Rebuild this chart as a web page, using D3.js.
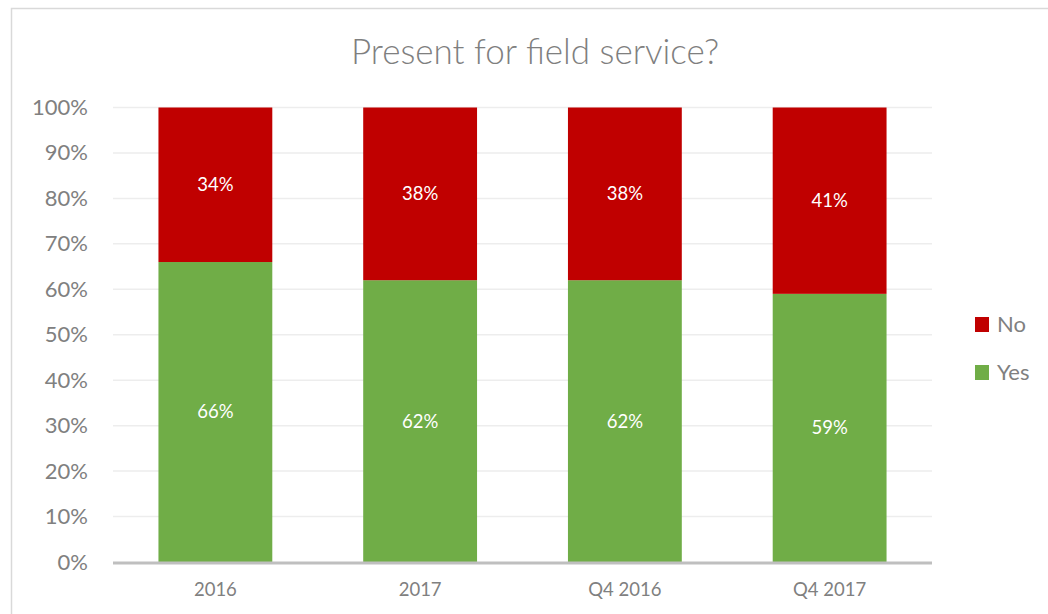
<!DOCTYPE html>
<html>
<head>
<meta charset="utf-8">
<script src="https://cdn.jsdelivr.net/npm/d3@7"></script>
<style>
  html, body { margin: 0; padding: 0; background: #fff; }
  svg { display: block; font-family: Lato, "Open Sans", sans-serif; }
</style>
</head>
<body>
<div id="chart"></div>
<script>
// Survey answers per period (percent of respondents)
const categories = ["2016", "2017", "Q4 2016", "Q4 2017"];
const yesValues = [66, 62, 62, 59];
const noValues = [34, 38, 38, 41];
const seriesNames = ["Yes", "No"];
const yTicks = [0, 10, 20, 30, 40, 50, 60, 70, 80, 90, 100];
const titleText = "Present for field service?";

const width = 1048, height = 614;
const colors = { Yes: "#70AD47", No: "#C00000" };

const svg = d3.select("#chart").append("svg")
  .attr("width", width).attr("height", height);

// chart area frame (only top and left edges fall inside the view)
svg.append("rect")
  .attr("x", 11.5).attr("y", 8.5)
  .attr("width", width + 20).attr("height", height + 20)
  .attr("fill", "#fff").attr("stroke", "#d9d9d9").attr("stroke-width", 1.5);

const plot = { left: 113, right: 932, top: 107.5, bottom: 562 };

const x = d3.scaleBand()
  .domain(categories)
  .range([plot.left, plot.right])
  .paddingInner(0.444)
  .paddingOuter(0.222);

const y = d3.scaleLinear()
  .domain([0, 100])
  .range([plot.bottom, plot.top]);

// horizontal gridlines
svg.append("g")
  .selectAll("line")
  .data(yTicks.filter(t => t > 0))
  .join("line")
  .attr("x1", plot.left).attr("x2", plot.right)
  .attr("y1", d => y(d)).attr("y2", d => y(d))
  .attr("stroke", "#ededed").attr("stroke-width", 1.5);

// y axis labels
const yAxis = d3.axisLeft(y).tickValues(yTicks).tickFormat(d => d + "%").tickSize(0).tickPadding(0);
const yg = svg.append("g").attr("transform", `translate(${plot.left - 25},0)`).call(yAxis);
yg.select(".domain").remove();
yg.selectAll("text")
  .attr("fill", "#808080").attr("font-size", 22)
  .attr("font-family", "Lato, 'Open Sans', sans-serif");

// stacked data
const table = categories.map((c, i) => ({ category: c, Yes: yesValues[i], No: noValues[i] }));
const stacked = d3.stack().keys(seriesNames)(table);

const layers = svg.append("g").selectAll("g")
  .data(stacked)
  .join("g")
  .attr("fill", d => colors[d.key]);

layers.selectAll("rect")
  .data(d => d)
  .join("rect")
  .attr("x", d => x(d.data.category))
  .attr("width", x.bandwidth())
  .attr("y", d => y(d[1]))
  .attr("height", d => y(d[0]) - y(d[1]));

// value labels
layers.selectAll("text")
  .data(d => d.map(v => ({ v, key: d.key })))
  .join("text")
  .attr("x", d => x(d.v.data.category) + x.bandwidth() / 2)
  .attr("y", d => y((d.v[0] + d.v[1]) / 2))
  .attr("dy", "0.35em")
  .attr("text-anchor", "middle")
  .attr("fill", "#fff")
  .attr("font-size", 18.5)
  .text(d => d.v.data[d.key] + "%");

// baseline
svg.append("line")
  .attr("x1", plot.left).attr("x2", plot.right)
  .attr("y1", plot.bottom + 1).attr("y2", plot.bottom + 1)
  .attr("stroke", "#bfbfbf").attr("stroke-width", 3);

// category axis
const xAxis = d3.axisBottom(x).tickSize(0).tickPadding(0);
const xg = svg.append("g").attr("transform", `translate(0,${plot.bottom + 21})`).call(xAxis);
xg.select(".domain").remove();
xg.selectAll("text")
  .attr("fill", "#808080").attr("font-size", 18.5)
  .attr("font-family", "Lato, 'Open Sans', sans-serif");

// title
svg.append("text")
  .attr("x", 535).attr("y", 64)
  .attr("text-anchor", "middle")
  .attr("fill", "#7f7f7f")
  .attr("font-size", 35)
  .attr("font-weight", 300)
  .text(titleText);

// legend
const legendItems = ["No", "Yes"];
const legend = svg.append("g").selectAll("g")
  .data(legendItems)
  .join("g")
  .attr("transform", (d, i) => `translate(975,${317 + i * 48})`);
legend.append("rect")
  .attr("width", 14).attr("height", 15)
  .attr("fill", d => colors[d]);
legend.append("text")
  .attr("x", 22).attr("y", 7.5).attr("dy", "0.35em")
  .attr("fill", "#808080").attr("font-size", 22)
  .text(d => d);
</script>
</body>
</html>
